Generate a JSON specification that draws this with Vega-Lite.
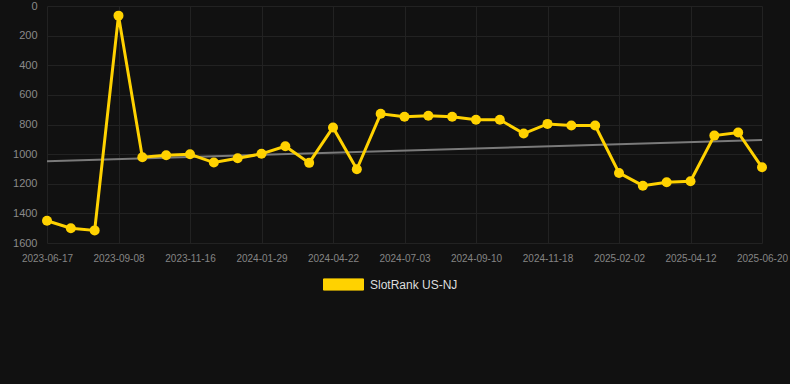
{
  "$schema": "https://vega.github.io/schema/vega-lite/v6.json",
  "background": "#111111",
  "autosize": {"type": "none"},
  "width": 750,
  "height": 237,
  "padding": {"left": 40, "top": 6, "right": 0, "bottom": 141},
  "config": {"view": {"stroke": null}, "font": "Liberation Sans"},
  "data": {
    "values": [
      {"date": "2023-06-17", "rank": 1450, "trend": 1048},
      {"date": "2023-07-15", "rank": 1500},
      {"date": "2023-08-12", "rank": 1515},
      {"date": "2023-09-08", "rank": 65},
      {"date": "2023-10-01", "rank": 1021},
      {"date": "2023-10-24", "rank": 1007},
      {"date": "2023-11-16", "rank": 1001},
      {"date": "2023-12-11", "rank": 1057},
      {"date": "2024-01-05", "rank": 1028},
      {"date": "2024-01-29", "rank": 998},
      {"date": "2024-02-26", "rank": 947},
      {"date": "2024-03-25", "rank": 1059},
      {"date": "2024-04-22", "rank": 820},
      {"date": "2024-05-16", "rank": 1102},
      {"date": "2024-06-09", "rank": 728},
      {"date": "2024-07-03", "rank": 748},
      {"date": "2024-07-26", "rank": 741},
      {"date": "2024-08-18", "rank": 748},
      {"date": "2024-09-10", "rank": 768},
      {"date": "2024-10-03", "rank": 768},
      {"date": "2024-10-26", "rank": 861},
      {"date": "2024-11-18", "rank": 796},
      {"date": "2024-12-13", "rank": 807},
      {"date": "2025-01-08", "rank": 807},
      {"date": "2025-02-02", "rank": 1127},
      {"date": "2025-02-25", "rank": 1213},
      {"date": "2025-03-20", "rank": 1190},
      {"date": "2025-04-12", "rank": 1183},
      {"date": "2025-05-05", "rank": 875},
      {"date": "2025-05-28", "rank": 854},
      {"date": "2025-06-20", "rank": 1089, "trend": 904}
    ]
  },
  "encoding": {
    "x": {
      "field": "date",
      "type": "ordinal",
      "sort": "ascending",
      "scale": {"type": "point", "range": [7, 722], "padding": 0},
      "axis": {
        "title": null,
        "values": ["2023-06-17", "2023-09-08", "2023-11-16", "2024-01-29", "2024-04-22", "2024-07-03", "2024-09-10", "2024-11-18", "2025-02-02", "2025-04-12", "2025-06-20"],
        "labelAngle": 0,
        "labelColor": "#858585",
        "labelFontSize": 10,
        "labelPadding": 10,
        "labelOverlap": false,
        "ticks": false,
        "domain": false,
        "grid": true,
        "gridColor": "#222222",
        "gridWidth": 1
      }
    },
    "y": {
      "field": "rank",
      "type": "quantitative",
      "title": null,
      "scale": {"domain": [0, 1600], "reverse": true, "nice": false},
      "axis": {
        "values": [0, 200, 400, 600, 800, 1000, 1200, 1400, 1600],
        "format": "d",
        "labelOverlap": false,
        "labelColor": "#8a8a8a",
        "labelFontSize": 11,
        "labelPadding": 3,
        "ticks": false,
        "domain": false,
        "gridColor": "#222222"
      }
    }
  },
  "layer": [
    {
      "transform": [{"filter": "datum.trend != null"}],
      "mark": {"type": "line", "color": "#7a7a7a", "strokeWidth": 2},
      "encoding": {
        "y": {
          "field": "trend",
          "type": "quantitative",
          "title": null,
          "scale": {"domain": [0, 1600], "reverse": true, "nice": false},
          "axis": {
            "values": [0, 200, 400, 600, 800, 1000, 1200, 1400, 1600],
            "format": "d",
            "labelOverlap": false,
            "labelColor": "#8a8a8a",
            "labelFontSize": 11,
            "labelPadding": 3,
            "ticks": false,
            "domain": false,
            "gridColor": "#222222"
          }
        }
      }
    },
    {
      "mark": {"type": "line", "strokeWidth": 3},
      "encoding": {
        "color": {
          "datum": "SlotRank US-NJ",
          "scale": {"range": ["#FFD200"]},
          "legend": {
            "title": null,
            "orient": "none",
            "legendX": 283,
            "legendY": 258,
            "direction": "horizontal",
            "symbolType": "M-1,-0.28H1V0.28H-1Z",
            "symbolSize": 1600,
            "labelColor": "#dddddd",
            "labelFontSize": 12,
            "labelOffset": 6,
            "encode": {"symbols": {"update": {"fill": {"value": "#FFD200"}, "stroke": {"value": "#E5BC00"}, "strokeWidth": {"value": 1}, "opacity": {"value": 1}}}}
          }
        }
      }
    },
    {
      "mark": {"type": "point", "filled": true, "size": 100, "opacity": 1},
      "encoding": {
        "color": {"datum": "SlotRank US-NJ"}
      }
    }
  ]
}
